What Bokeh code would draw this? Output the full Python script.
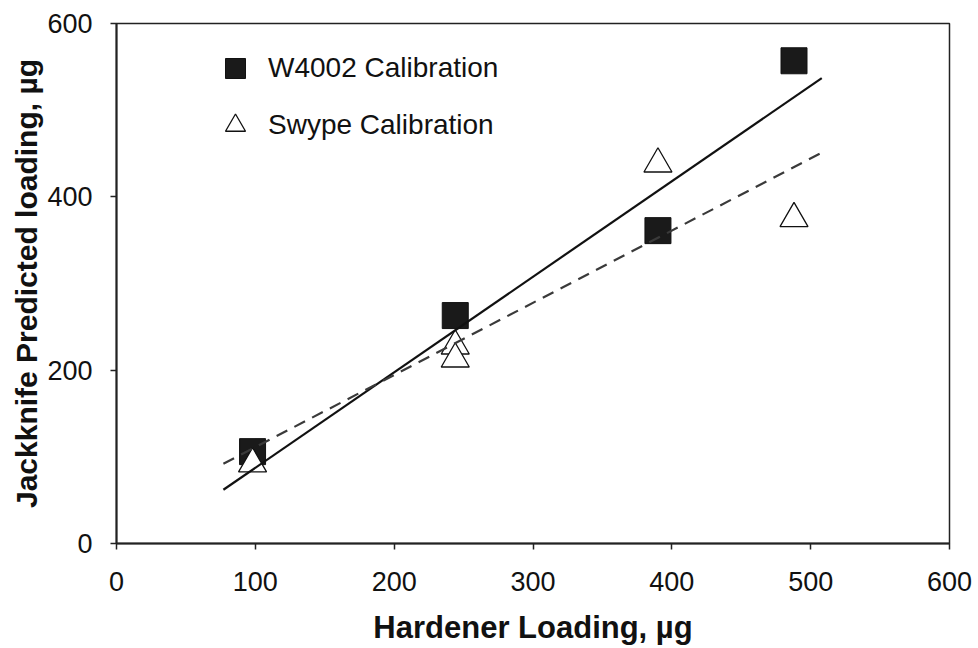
from bokeh.plotting import figure
from bokeh.models import Range1d, FixedTicker, Legend, LegendItem
from bokeh.embed import file_html
from bokeh.resources import INLINE

# ---- data ----
w4002_x = [98, 244, 390, 488]
w4002_y = [106, 263, 361, 557]
swype_x = [98, 244, 244, 390, 488]
swype_y = [92, 228, 213, 438, 375]
fit_x = [77, 508]
w4002_fit_y = [62, 537]
swype_fit_y = [92, 451]
x_ticks = [0, 100, 200, 300, 400, 500, 600]
y_ticks = [0, 200, 400, 600]
x_title = "Hardener Loading, µg"
y_title = "Jackknife Predicted loading, µg"
series_names = ["W4002 Calibration", "Swype Calibration"]

FONT = "Liberation Sans"

p = figure(width=978, height=648, output_backend="svg", toolbar_location=None,
           x_range=Range1d(0, 600), y_range=Range1d(0, 600),
           min_border_left=116, min_border_right=29, min_border_top=23, min_border_bottom=105)

p.background_fill_color = "white"
p.border_fill_color = "white"
p.xgrid.visible = False
p.ygrid.visible = False
p.outline_line_color = "#222222"
p.outline_line_width = 1.5

p.xaxis.ticker = FixedTicker(ticks=x_ticks)
p.yaxis.ticker = FixedTicker(ticks=y_ticks)
for ax in (p.xaxis[0], p.yaxis[0]):
    ax.axis_line_color = "#222222"
    ax.axis_line_width = 2
    ax.major_tick_line_color = "#222222"
    ax.major_tick_line_width = 1.5
    ax.major_tick_out = 6
    ax.major_tick_in = 0
    ax.minor_tick_line_color = None
    ax.major_label_text_font = FONT
    ax.major_label_text_font_size = "27px"
    ax.major_label_text_color = "#111111"
    ax.axis_label_text_font = FONT
    ax.axis_label_text_font_style = "bold"
    ax.axis_label_text_color = "#111111"
p.xaxis.axis_label = x_title
p.yaxis.axis_label = y_title
p.xaxis.major_label_standoff = 22
p.xaxis.axis_label_standoff = 16
p.xaxis.axis_label_text_font_size = "31px"
p.yaxis.major_label_standoff = 18
p.yaxis.axis_label_standoff = 1
p.yaxis.axis_label_text_font_size = "30px"

sq = p.scatter(w4002_x, w4002_y, marker="square", size=26,
               fill_color="#1a1a1a", line_color="#111111", line_width=1)
tri = p.scatter(swype_x, swype_y, marker="triangle", size=28,
                fill_color="white", line_color="#111111", line_width=1.3)
p.line(fit_x, w4002_fit_y, line_color="#111111", line_width=2.2)
p.line(fit_x, swype_fit_y, line_color="#3a3a3a", line_width=2.2, line_dash="12 8")

legend = Legend(items=[LegendItem(label=series_names[0], renderers=[sq]),
                       LegendItem(label=series_names[1], renderers=[tri])],
                location=(94, 393), orientation="vertical")
legend.glyph_width = 50
legend.glyph_height = 50
legend.label_height = 50
legend.spacing = 7
legend.padding = 0
legend.margin = 0
legend.label_standoff = 8
legend.border_line_color = None
legend.background_fill_alpha = 0
legend.label_text_font = FONT
legend.label_text_font_size = "28px"
legend.label_text_color = "#111111"
p.add_layout(legend, "center")

open("out.html", "w").write(file_html(p, INLINE))
